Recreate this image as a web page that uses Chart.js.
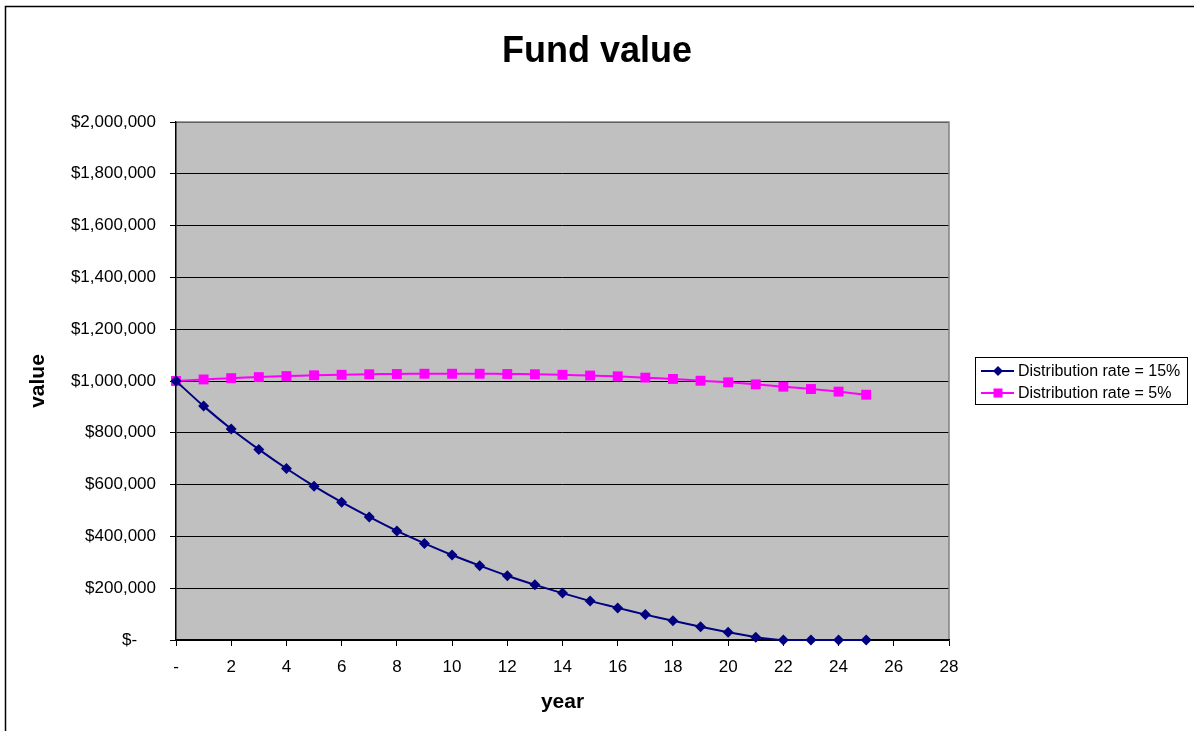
<!DOCTYPE html>
<html>
<head>
<meta charset="utf-8">
<script src="https://cdn.jsdelivr.net/npm/chart.js@4.4.1/dist/chart.umd.min.js"></script>
<style>
  body { margin: 0; background: #fff; }
  #wrap { width: 1194px; height: 731px; }
</style>
</head>
<body>
<div id="wrap"><canvas id="fundChart" width="1194" height="731"></canvas></div>
<script>
// values
const years = [0, 1, 2, 3, 4, 5, 6, 7, 8, 9, 10, 11, 12, 13, 14, 15, 16, 17, 18, 19, 20, 21, 22, 23, 24, 25];
const rate15 = [1000000, 903000, 815000, 736000, 662000, 594000, 532000, 475000, 421000, 373000, 328000, 287000, 248000, 213000, 181000, 151000, 124000, 98000, 74000, 51000, 30000, 11000, 0, 0, 0, 0];
const rate5 = [1000000, 1006000, 1011000, 1015000, 1019000, 1022000, 1024000, 1026000, 1027000, 1028000, 1028000, 1028000, 1027000, 1026000, 1024000, 1021000, 1018000, 1013000, 1008000, 1001000, 995000, 987000, 978000, 969000, 959000, 947000];
const seriesNames = ["Distribution rate = 15%", "Distribution rate = 5%"];

const FONT = "Arial, 'Liberation Sans', sans-serif";

const toPoints = vals => years.map((y, i) => ({ x: y, y: vals[i] }));

// gray plot area, outer frame, gray top/right edges
const plotFrame = {
    id: "plotFrame",
    beforeDraw(chart) {
        const { ctx, chartArea: a } = chart;
        ctx.save();
        ctx.fillStyle = "#fff";
        ctx.fillRect(0, 0, chart.width, chart.height);
        ctx.fillStyle = "#c0c0c0";
        ctx.fillRect(a.left, a.top, a.right - a.left, a.bottom - a.top);
        ctx.strokeStyle = "#000";
        ctx.lineWidth = 1.5;
        ctx.strokeRect(5.5, 6.5, chart.width + 10, chart.height + 10);
        ctx.restore();
    },
    beforeDatasetsDraw(chart) {
        const { ctx, chartArea: a } = chart;
        ctx.save();
        ctx.strokeStyle = "#808080";
        ctx.lineWidth = 1.5;
        ctx.beginPath();
        ctx.moveTo(a.left + 1, a.top);
        ctx.lineTo(a.right, a.top);
        ctx.lineTo(a.right, a.bottom - 1);
        ctx.stroke();
        ctx.restore();
    }
};

// excel-like legend box with line + marker samples
const boxLegend = {
    id: "boxLegend",
    afterDraw(chart) {
        const ctx = chart.ctx;
        const bx = 975.5, by = 357.5, bw = 212, bh = 47;
        ctx.save();
        ctx.fillStyle = "#fff";
        ctx.fillRect(bx, by, bw, bh);
        ctx.strokeStyle = "#000";
        ctx.lineWidth = 1;
        ctx.strokeRect(bx, by, bw, bh);
        chart.data.datasets.forEach((ds, i) => {
            const cy = 371 + i * 22;
            ctx.strokeStyle = ds.borderColor;
            ctx.lineWidth = 2;
            ctx.beginPath();
            ctx.moveTo(981, cy);
            ctx.lineTo(1014, cy);
            ctx.stroke();
            ctx.fillStyle = ds.backgroundColor;
            ctx.beginPath();
            if (ds.pointStyle === "rectRot") {
                ctx.moveTo(998, cy - 5);
                ctx.lineTo(1003, cy);
                ctx.lineTo(998, cy + 5);
                ctx.lineTo(993, cy);
                ctx.closePath();
            } else {
                ctx.rect(993.5, cy - 4.5, 9, 9);
            }
            ctx.fill();
            ctx.fillStyle = "#000";
            ctx.font = "16px " + FONT;
            ctx.textBaseline = "middle";
            ctx.textAlign = "left";
            ctx.fillText(ds.label, 1018, cy + 1);
        });
        ctx.restore();
    }
};

const canvas = document.getElementById("fundChart");
const chart = new Chart(canvas, {
    type: "line",
    data: {
        datasets: [{
            label: seriesNames[0],
            data: toPoints(rate15),
            borderColor: "#000080",
            backgroundColor: "#000080",
            borderWidth: 2,
            pointStyle: "rectRot",
            pointRadius: 5.5,
            pointHoverRadius: 5.5,
            pointBorderWidth: 0,
            tension: 0.25,
            clip: false
        }, {
            label: seriesNames[1],
            data: toPoints(rate5),
            borderColor: "#ff00ff",
            backgroundColor: "#ff00ff",
            borderWidth: 2,
            pointStyle: "rect",
            pointRadius: 7,
            pointHoverRadius: 7,
            pointBorderWidth: 0,
            tension: 0.25,
            clip: false
        }]
    },
    options: {
        responsive: false,
        animation: false,
        layout: { padding: 0 },
        plugins: {
            legend: { display: false },
            tooltip: { enabled: false },
            title: {
                display: true,
                text: "Fund value",
                color: "#000",
                font: { family: FONT, size: 36, weight: "bold", lineHeight: 1.2 },
                padding: { top: 30, bottom: 48.8 }
            }
        },
        scales: {
            x: {
                type: "linear",
                min: 0,
                max: 28,
                afterFit: scale => { scale.height = 91; },
                ticks: {
                    stepSize: 2,
                    color: "#000",
                    padding: 11,
                    maxRotation: 0,
                    font: { family: FONT, size: 17 },
                    callback: v => v === 0 ? "-" : String(v)
                },
                grid: { drawOnChartArea: false, drawTicks: true, tickLength: 6, color: "#000" },
                border: { display: true, color: "#000", width: 1.5 },
                title: {
                    display: true,
                    text: "year",
                    color: "#000",
                    font: { family: FONT, size: 21, weight: "bold", lineHeight: 1.2 },
                    padding: { top: 0, bottom: 16.4 }
                }
            },
            y: {
                min: 0,
                max: 2000000,
                afterFit: scale => { scale.width = 176; },
                ticks: {
                    stepSize: 200000,
                    color: "#000",
                    padding: 14,
                    font: { family: FONT, size: 17 },
                    callback: v => v === 0 ? "$-    " : "$" + v.toLocaleString("en-US")
                },
                grid: { color: "#000", lineWidth: 1, drawTicks: true, tickLength: 6 },
                border: { display: true, color: "#000", width: 1.5 },
                title: {
                    display: true,
                    text: "value",
                    color: "#000",
                    font: { family: FONT, size: 21, weight: "bold", lineHeight: 1.2 },
                    padding: { top: 25.4, bottom: 0 }
                }
            },
            // empty right-hand axis that only reserves room for the legend box
            legendSpace: {
                position: "right",
                min: 0,
                max: 1,
                afterFit: scale => { scale.width = 245; },
                ticks: { display: false },
                grid: { display: false },
                border: { display: false }
            }
        }
    },
    plugins: [plotFrame, boxLegend]
});
</script>
</body>
</html>
